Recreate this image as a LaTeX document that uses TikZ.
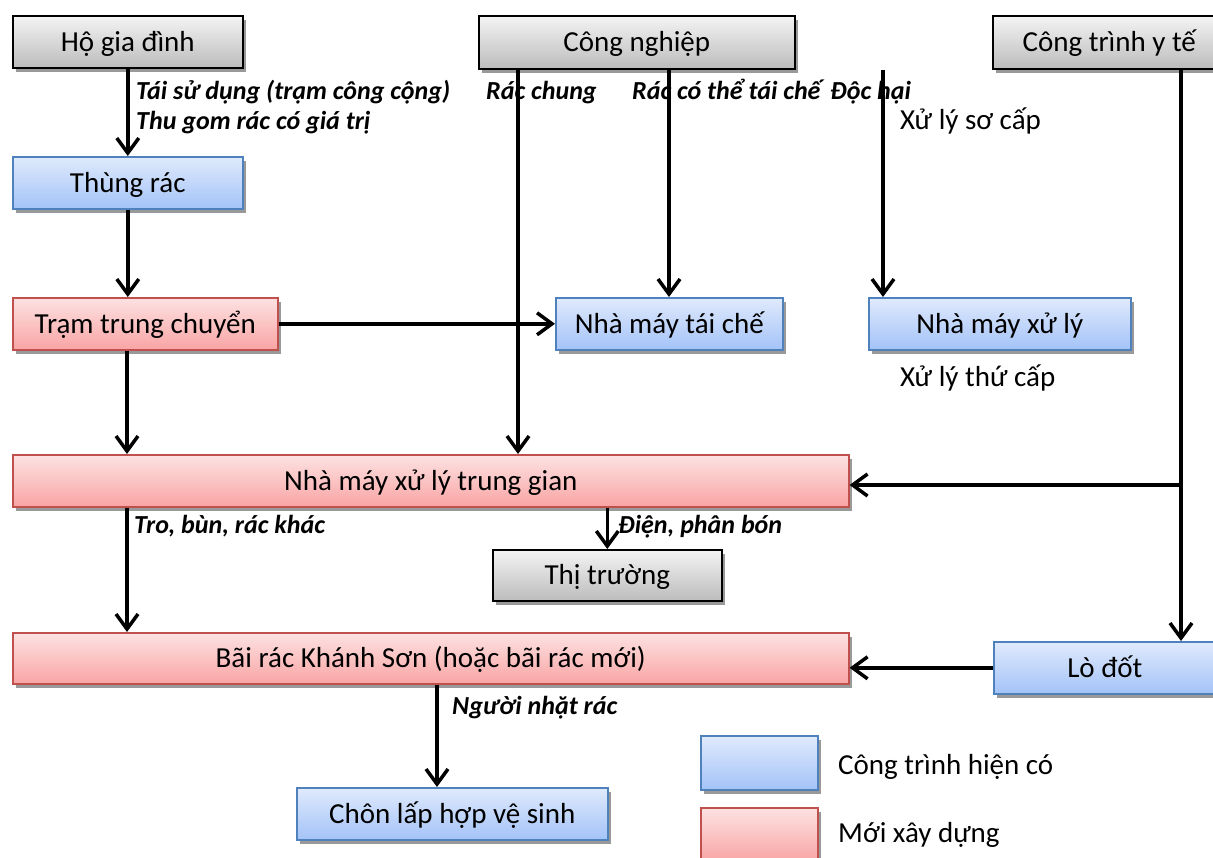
\documentclass[tikz,border=0pt]{standalone}
\usepackage{fontspec}
\setmainfont{Carlito}
\usetikzlibrary{arrows.meta,shadows}
\definecolor{btop}{RGB}{224,234,252}
\definecolor{bbot}{RGB}{163,195,248}
\definecolor{bdraw}{RGB}{79,129,189}
\definecolor{rtop}{RGB}{253,226,226}
\definecolor{rbot}{RGB}{249,164,164}
\definecolor{rdraw}{RGB}{192,80,77}
\definecolor{gtop}{RGB}{244,244,244}
\definecolor{gbot}{RGB}{188,188,188}
\begin{document}
\begin{tikzpicture}[x=1pt,y=-1pt,
  box/.style={rectangle, line width=1.6pt, inner sep=0pt, anchor=north west,
    font=\fontsize{29}{32}\selectfont, text height=22pt, text depth=3.3pt,
    drop shadow={shadow xshift=3pt, shadow yshift=-4pt, fill=black!40, opacity=1}},
  gbox/.style={box, draw=black, top color=gtop, bottom color=gbot},
  bbox/.style={box, draw=bdraw, top color=btop, bottom color=bbot},
  rbox/.style={box, draw=rdraw, top color=rtop, bottom color=rbot},
  lbl/.style={anchor=base west, inner sep=0pt, font=\fontsize{26}{28}\selectfont\bfseries\itshape},
  note/.style={anchor=base west, inner sep=0pt, font=\fontsize{29}{32}\selectfont},
  arr/.style={line width=3.5pt, -{Straight Barb[length=15pt,width=22pt,line width=3.5pt]}}]
\useasboundingbox (0,0) rectangle (1213,857);
\fill[white] (0,0) rectangle (1213,857);
% boxes
\node[gbox, minimum width=230pt, minimum height=52pt] (hgd) at (12,15) {Hộ gia đình};
\node[gbox, minimum width=316pt, minimum height=53pt] (cn) at (478,15) {Công nghiệp};
\node[gbox, minimum width=233pt, minimum height=53pt] (cty) at (992,15) {Công trình y tế};
\node[bbox, minimum width=230pt, minimum height=52pt] (tr) at (12,156) {Thùng rác};
\node[rbox, minimum width=265pt, minimum height=52pt] (ttc) at (12,297) {Trạm trung chuyển};
\node[bbox, minimum width=227pt, minimum height=52pt] (nmtc) at (555,297) {Nhà máy tái chế};
\node[bbox, minimum width=262pt, minimum height=52pt] (nmxl) at (868,297) {Nhà máy xử lý};
\node[rbox, minimum width=836pt, minimum height=52pt] (tg) at (12,454) {Nhà máy xử lý trung gian};
\node[gbox, minimum width=229pt, minimum height=51pt] (tt) at (492,549) {Thị trường};
\node[rbox, minimum width=836pt, minimum height=51pt] (br) at (12,632) {Bãi rác Khánh Sơn (hoặc bãi rác mới)};
\node[bbox, minimum width=222pt, minimum height=52pt] (ld) at (993,641) {Lò đốt};
\node[bbox, minimum width=311pt, minimum height=52pt] (cl) at (296,787) {Chôn lấp hợp vệ sinh};
\node[bbox, minimum width=117pt, minimum height=54pt] (lb) at (700,735) {};
\node[rbox, minimum width=117pt, minimum height=54pt] (lr) at (700,807) {};
\node[note] (lbt) at (838,774) {Công trình hiện có};
\node[note] (lrt) at (838,842) {Mới xây dựng};
% labels
\node[lbl] (l1) at (136,99) {Tái sử dụng (trạm công cộng)};
\node[lbl] (l2) at (136,129) {Thu gom rác có giá trị};
\node[lbl] (l3) at (486,99) {Rác chung};
\node[lbl] (l4) at (632,99) {Rác có thể tái chế};
\node[lbl] (l5) at (830,99) {Độc hại};
\node[note] (l6) at (900,129) {Xử lý sơ cấp};
\node[note] (l7) at (900,386) {Xử lý thứ cấp};
\node[lbl] (l8) at (134,533) {Tro, bùn, rác khác};
\node[lbl] (l9) at (618,533) {Điện, phân bón};
\node[lbl] (l10) at (452,714) {Người nhặt rác};
% column coordinates
\coordinate (c127) at (127,0);
\coordinate (c437) at (437,0);
\coordinate (c518) at (518,0);
\coordinate (c669) at (669,0);
\coordinate (c883) at (883,0);
\coordinate (c1181) at (1181,0);
\coordinate (branch) at (1181,485);
% connectors
\draw[arr] (hgd.south) -- (tr.north);
\draw[arr] (tr.south) -- (tr.south |- ttc.north);
\draw[arr] (ttc.east) -- (nmtc.west);
\draw[arr] (ttc.south -| c127) -- (tg.north -| c127);
\draw[arr] (cn.south -| c518) -- (tg.north -| c518);
\draw[arr] (cn.south -| c669) -- (nmtc.north -| c669);
\draw[arr] (cn.south -| c883) -- (nmxl.north -| c883);
\draw[arr] (cty.south -| c1181) -- (ld.north -| c1181);
\draw[arr] (branch) -- (tg.east |- branch);
\draw[arr] (ld.west) -- (ld.west -| br.east);
\draw[arr] (tg.south -| c127) -- (br.north -| c127);
\draw[arr] (tg.south -| tt.north) -- (tt.north);
\draw[arr] (br.south -| c437) -- (cl.north -| c437);
\end{tikzpicture}
\end{document}
